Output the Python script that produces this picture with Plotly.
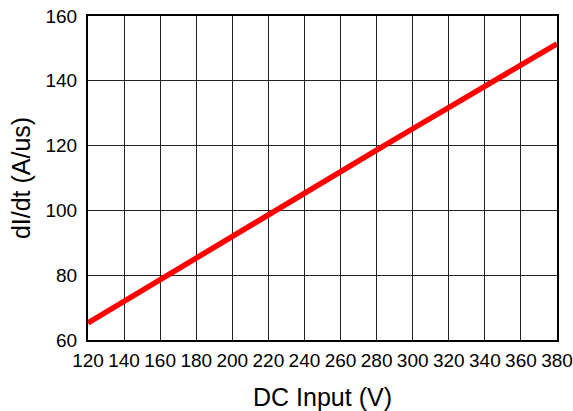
import plotly.graph_objects as go

dc_input = [120, 140, 160, 180, 200, 220, 240, 260, 280, 300, 320, 340, 360, 380]
didt = [65.3, 72.0, 78.8, 85.4, 92.0, 98.8, 105.4, 112.0, 118.6, 125.2, 131.8, 138.4, 145.0, 151.4]

x_ticks = list(range(120, 381, 20))
y_ticks = list(range(60, 161, 20))

fig = go.Figure()
fig.add_trace(go.Scatter(
    x=dc_input, y=didt, mode="lines",
    line=dict(color="#ff0000", width=5.5),
    showlegend=False, hoverinfo="skip",
))

font_family = "Liberation Sans, Arial, sans-serif"
fig.update_layout(
    width=573, height=411,
    margin=dict(l=88, r=16, t=16, b=71),
    paper_bgcolor="white", plot_bgcolor="white",
    font=dict(family=font_family, color="black"),
)
fig.update_xaxes(
    range=[120, 380], tickvals=x_ticks, ticktext=[str(v) for v in x_ticks],
    tickfont=dict(size=19), showgrid=True, gridcolor="#222222", gridwidth=1,
    showline=True, linecolor="black", linewidth=2, mirror=True,
    ticks="", zeroline=False, ticklabelstandoff=2, automargin=False,
    title=dict(text="DC Input (V)", font=dict(size=25), standoff=20),
)
fig.update_yaxes(
    range=[60, 160], tickvals=y_ticks, ticktext=[str(v) for v in y_ticks],
    tickfont=dict(size=19), showgrid=True, gridcolor="#222222", gridwidth=1,
    showline=True, linecolor="black", linewidth=2, mirror=True,
    ticks="", zeroline=False, ticklabelstandoff=5, automargin=False,
    title=dict(text="dI/dt (A/us)", font=dict(size=25), standoff=8),
)

fig.write_html("out.html", config={"displayModeBar": False},
               post_script="document.body.style.margin='0';")
